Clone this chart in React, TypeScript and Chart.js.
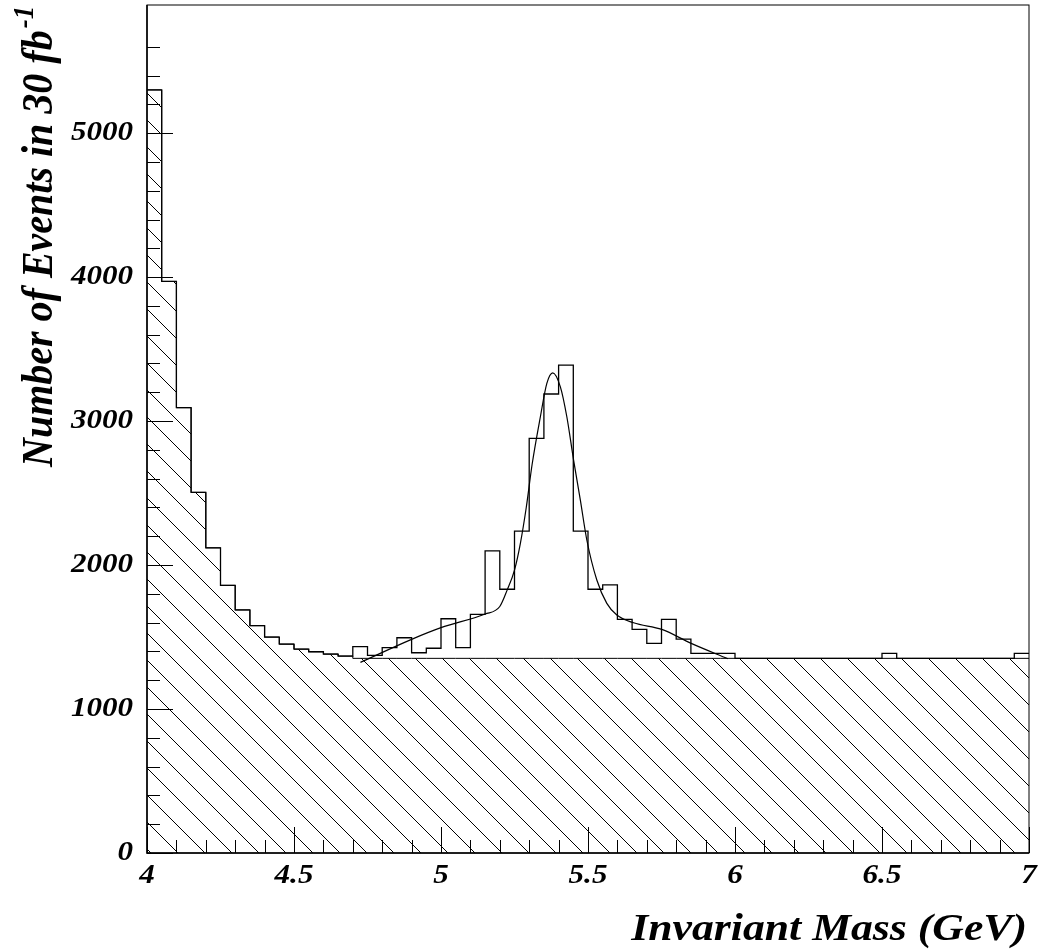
import React, { useEffect, useRef } from "react";
import { Chart, registerables } from "chart.js";

Chart.register(...registerables);

// ---- data ----
const X_MIN = 4;
const X_MAX = 7;
const BIN_WIDTH = 0.05;
const Y_MAX = 5890;

// signal + background histogram (60 bins of 0.05 GeV from 4.0 to 7.0)
const totalCounts = [
  5300, 3970, 3093, 2505, 2120, 1859, 1688, 1579, 1500, 1451,
  1416, 1398, 1382, 1368, 1433, 1372, 1426, 1495, 1391, 1422,
  1627, 1426, 1658, 2099, 1832, 2236, 2880, 3188, 3389, 2236,
  1832, 1863, 1623, 1553, 1456, 1623, 1486, 1387, 1387, 1387,
  1352, 1352, 1352, 1352, 1352, 1352, 1352, 1352, 1352, 1352,
  1387, 1352, 1352, 1352, 1352, 1352, 1352, 1352, 1352, 1387,
];

// background-only histogram (hatched)
const backgroundCounts = [
  5300, 3970, 3093, 2505, 2120, 1859, 1688, 1579, 1500, 1451,
  1416, 1398, 1382, 1368, 1352, 1352, 1352, 1352, 1352, 1352,
  1352, 1352, 1352, 1352, 1352, 1352, 1352, 1352, 1352, 1352,
  1352, 1352, 1352, 1352, 1352, 1352, 1352, 1352, 1352, 1352,
  1352, 1352, 1352, 1352, 1352, 1352, 1352, 1352, 1352, 1352,
  1352, 1352, 1352, 1352, 1352, 1352, 1352, 1352, 1352, 1352,
];

// fitted curve
const fitX = [
  4.726, 4.9, 5.0, 5.15, 5.2, 5.225, 5.25, 5.27, 5.29, 5.31, 5.338, 5.36,
  5.38, 5.406, 5.428, 5.451, 5.474, 5.496, 5.53, 5.564, 5.598, 5.655, 5.751,
  5.851, 5.976,
];
const fitY = [
  1324, 1484, 1565, 1660, 1712, 1826, 1965, 2151, 2400, 2700, 3030, 3262,
  3335, 3238, 3030, 2729, 2451, 2174, 1896, 1734, 1653, 1599, 1553,
  1456, 1349,
];

const xMajorTicks = [4, 4.5, 5, 5.5, 6, 6.5, 7];
const xMajorLabels = ["4", "4.5", "5", "5.5", "6", "6.5", "7"];
const yMajorTicks = [0, 1000, 2000, 3000, 4000, 5000];
const yMajorLabels = ["0", "1000", "2000", "3000", "4000", "5000"];

const X_TITLE = "Invariant Mass (GeV)";
const Y_TITLE = "Number of Events in 30 fb";
const Y_TITLE_SUP = "-1";

const FONT_FAMILY = '"Liberation Serif", "DejaVu Serif", serif';
const STRETCH = 1.15;

function histPoints(values: number[]) {
  const pts = values.map((v, i) => ({ x: X_MIN + i * BIN_WIDTH, y: v }));
  pts.push({ x: X_MAX, y: values[values.length - 1] });
  return pts;
}

function makeHatch(): CanvasPattern | string {
  const size = 27;
  const c = document.createElement("canvas");
  c.width = size;
  c.height = size;
  const g = c.getContext("2d");
  if (!g) return "rgba(0,0,0,0)";
  g.strokeStyle = "#000";
  g.lineWidth = 1;
  g.beginPath();
  g.moveTo(-2, -2);
  g.lineTo(size + 2, size + 2);
  g.moveTo(-2, size - 2);
  g.lineTo(2, size + 2);
  g.moveTo(size - 2, -2);
  g.lineTo(size + 2, 2);
  g.stroke();
  const p = g.createPattern(c, "repeat");
  return p || "rgba(0,0,0,0)";
}

const isMultiple = (v: number, step: number) =>
  Math.abs(v / step - Math.round(v / step)) < 1e-6;

function stretchedText(ctx: CanvasRenderingContext2D, text: string, x: number, y: number, align: "left" | "right" | "center") {
  ctx.save();
  ctx.translate(x, y);
  ctx.scale(STRETCH, 1);
  ctx.textAlign = align;
  ctx.fillText(text, 0, 0);
  ctx.restore();
}

const framePlugin = {
  id: "rootFrame",
  afterDraw(chart: any) {
    const { ctx, chartArea } = chart;
    const xs = chart.scales.x;
    const ys = chart.scales.y;
    const { left, right, top, bottom } = chartArea;
    ctx.save();
    ctx.strokeStyle = "#000";
    // frame
    ctx.lineWidth = 1;
    ctx.strokeRect(left, top, right - left, bottom - top);
    ctx.lineWidth = 1.5;
    ctx.beginPath();
    ctx.moveTo(left, top);
    ctx.lineTo(left, bottom);
    ctx.lineTo(right, bottom);
    ctx.stroke();
    // ticks (inside)
    ctx.lineWidth = 1;
    ctx.beginPath();
    xs.ticks.forEach((t: any) => {
      const v = t.value;
      if (!isMultiple(v - X_MIN, 0.1)) return;
      const major = isMultiple(v, 0.5);
      const px = Math.round(xs.getPixelForValue(v)) + 0.5;
      ctx.moveTo(px, bottom);
      ctx.lineTo(px, bottom - (major ? 26 : 13));
    });
    ys.ticks.forEach((t: any) => {
      const v = t.value;
      if (!isMultiple(v, 200)) return;
      const major = isMultiple(v, 1000);
      const py = Math.round(ys.getPixelForValue(v)) + 0.5;
      ctx.moveTo(left, py);
      ctx.lineTo(left + (major ? 26 : 13), py);
    });
    ctx.stroke();

    // tick labels
    ctx.fillStyle = "#000";
    ctx.font = `italic bold 27px ${FONT_FAMILY}`;
    ctx.textBaseline = "alphabetic";
    xMajorTicks.forEach((v, i) => {
      stretchedText(ctx, xMajorLabels[i], xs.getPixelForValue(v), 883, "center");
    });
    ctx.textBaseline = "middle";
    yMajorTicks.forEach((v, i) => {
      stretchedText(ctx, yMajorLabels[i], left - 14, ys.getPixelForValue(v), "right");
    });

    // axis titles
    ctx.textBaseline = "alphabetic";
    ctx.font = `italic bold 38px ${FONT_FAMILY}`;
    stretchedText(ctx, X_TITLE, 1027, 940, "right");

    ctx.save();
    ctx.translate(52, 467);
    ctx.scale(1.1, 1);
    ctx.rotate(-Math.PI / 2);
    ctx.textAlign = "left";
    ctx.font = `italic bold 40px ${FONT_FAMILY}`;
    ctx.fillText(Y_TITLE, 0, 0);
    const w = ctx.measureText(Y_TITLE).width;
    ctx.font = `italic bold 27px ${FONT_FAMILY}`;
    ctx.fillText(Y_TITLE_SUP, w + 2, -17);
    ctx.restore();

    ctx.restore();
  },
};

export default function App() {
  const ref = useRef<HTMLCanvasElement | null>(null);

  useEffect(() => {
    if (!ref.current) return;
    const hatch = makeHatch();
    const chart = new Chart(ref.current, {
      type: "line",
      data: {
        datasets: [
          {
            label: "Background",
            data: histPoints(backgroundCounts),
            stepped: true,
            fill: "origin",
            backgroundColor: hatch as any,
            borderColor: "#000",
            borderWidth: 1,
            pointRadius: 0,
          },
          {
            label: "Signal + background",
            data: histPoints(totalCounts),
            stepped: true,
            fill: false,
            borderColor: "#000",
            borderWidth: 1.3,
            pointRadius: 0,
          },
          {
            label: "Fit",
            data: fitX.map((x, i) => ({ x, y: fitY[i] })),
            fill: false,
            borderColor: "#000",
            borderWidth: 1.2,
            pointRadius: 0,
            tension: 0.4,
            cubicInterpolationMode: "monotone",
          },
        ],
      },
      options: {
        responsive: false,
        animation: false,
        events: [],
        layout: { padding: { left: 0, top: 5, right: 23, bottom: 0 } },
        plugins: {
          legend: { display: false },
          tooltip: { enabled: false },
          title: { display: false },
        },
        scales: {
          x: {
            type: "linear",
            min: X_MIN,
            max: X_MAX,
            grid: { display: false },
            border: { display: false },
            afterFit: (s: any) => {
              s.height = 99;
              s.paddingLeft = 0;
              s.paddingRight = 0;
            },
            ticks: { stepSize: 0.1, autoSkip: false, display: false },
          },
          y: {
            type: "linear",
            min: 0,
            max: Y_MAX,
            grid: { display: false },
            border: { display: false },
            afterFit: (s: any) => {
              s.width = 147;
              s.paddingTop = 0;
              s.paddingBottom = 0;
            },
            ticks: { stepSize: 200, autoSkip: false, display: false },
          },
        },
      },
      plugins: [framePlugin],
    });
    return () => chart.destroy();
  }, []);

  return (
    <div style={{ position: "fixed", left: 0, top: 0, width: 1052, height: 952, background: "#fff" }}>
      <canvas ref={ref} width={1052} height={952} style={{ display: "block" }} />
    </div>
  );
}
